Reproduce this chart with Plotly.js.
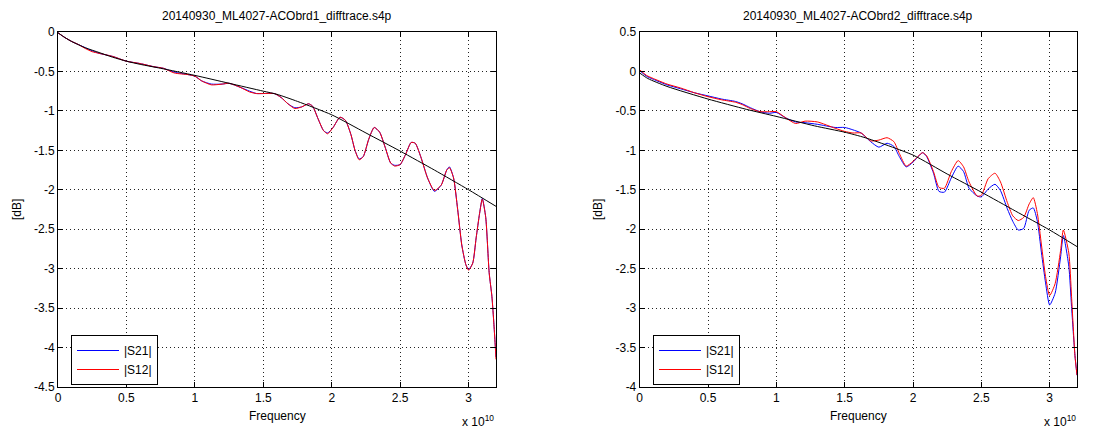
<!DOCTYPE html>
<html>
<head>
<meta charset="utf-8">
<script src="https://cdn.plot.ly/plotly-3.0.1.min.js"></script>
<style>html,body{margin:0;padding:0;background:#fff}#chart{width:1095px;height:429px}</style>
</head>
<body>
<div id="chart"></div>
<script>
// Frequency in units of 1e10 Hz
const freqLeft = [0, 0.05, 0.1, 0.15, 0.2, 0.25, 0.3, 0.4, 0.5, 0.6, 0.7, 0.77, 0.85, 0.95, 1.0, 1.05, 1.12, 1.2, 1.25, 1.33, 1.4, 1.45, 1.5, 1.58, 1.63, 1.68, 1.73, 1.78, 1.83, 1.86, 1.9, 1.94, 1.97, 2.01, 2.06, 2.1, 2.14, 2.17, 2.2, 2.23, 2.27, 2.31, 2.35, 2.39, 2.43, 2.46, 2.5, 2.54, 2.58, 2.61, 2.65, 2.7, 2.75, 2.8, 2.84, 2.86, 2.89, 2.92, 2.95, 2.98, 3.0, 3.03, 3.055, 3.08, 3.1, 3.125, 3.15, 3.17, 3.185, 3.195, 3.2];
const s12Left = [-0.01, -0.07, -0.12, -0.16, -0.21, -0.25, -0.27, -0.31, -0.37, -0.40, -0.44, -0.46, -0.52, -0.54, -0.56, -0.62, -0.67, -0.66, -0.65, -0.70, -0.76, -0.78, -0.78, -0.78, -0.83, -0.91, -0.97, -0.95, -0.91, -0.94, -1.10, -1.25, -1.29, -1.21, -1.08, -1.12, -1.30, -1.50, -1.62, -1.58, -1.36, -1.21, -1.27, -1.46, -1.66, -1.70, -1.68, -1.55, -1.40, -1.41, -1.58, -1.85, -2.01, -1.94, -1.75, -1.72, -1.85, -2.25, -2.70, -2.95, -3.02, -2.93, -2.61, -2.30, -2.12, -2.35, -3.05, -3.35, -3.71, -3.99, -4.15];
const s21Left = [-0.01, -0.07, -0.12, -0.16, -0.20, -0.24, -0.27, -0.31, -0.37, -0.40, -0.44, -0.46, -0.51, -0.54, -0.56, -0.62, -0.66, -0.66, -0.65, -0.70, -0.75, -0.78, -0.78, -0.78, -0.83, -0.91, -0.96, -0.95, -0.91, -0.94, -1.10, -1.25, -1.28, -1.21, -1.08, -1.12, -1.30, -1.50, -1.61, -1.58, -1.36, -1.21, -1.27, -1.46, -1.66, -1.69, -1.68, -1.55, -1.40, -1.41, -1.58, -1.85, -2.02, -1.94, -1.75, -1.71, -1.85, -2.25, -2.70, -2.95, -3.01, -2.93, -2.61, -2.30, -2.11, -2.35, -3.05, -3.35, -3.71, -3.99, -4.12];
const fitFreqLeft = [0, 0.05, 0.1, 0.2, 0.3, 0.4, 0.5, 0.6, 0.75, 1.0, 1.25, 1.5, 1.6, 1.75, 2.0, 2.25, 2.5, 2.75, 3.0, 3.2];
const fitLeft = [-0.01, -0.07, -0.12, -0.20, -0.26, -0.32, -0.37, -0.41, -0.46, -0.55, -0.65, -0.75, -0.79, -0.88, -1.05, -1.28, -1.51, -1.75, -2.00, -2.21];

const freqRight = [0, 0.05, 0.1, 0.2, 0.3, 0.4, 0.5, 0.6, 0.7, 0.75, 0.81, 0.88, 0.95, 1.0, 1.07, 1.14, 1.21, 1.3, 1.43, 1.5, 1.56, 1.62, 1.69, 1.75, 1.81, 1.86, 1.9, 1.95, 2.0, 2.07, 2.1, 2.15, 2.19, 2.23, 2.28, 2.33, 2.37, 2.41, 2.47, 2.5, 2.55, 2.6, 2.64, 2.69, 2.73, 2.77, 2.81, 2.85, 2.88, 2.91, 2.94, 2.97, 3.0, 3.04, 3.08, 3.1, 3.14, 3.16, 3.185, 3.2];
const s21Right = [0.01, -0.06, -0.10, -0.17, -0.22, -0.27, -0.31, -0.35, -0.38, -0.41, -0.46, -0.51, -0.53, -0.52, -0.59, -0.64, -0.65, -0.67, -0.71, -0.71, -0.74, -0.78, -0.89, -0.96, -0.91, -0.95, -1.08, -1.21, -1.15, -1.03, -1.08, -1.29, -1.52, -1.53, -1.35, -1.20, -1.27, -1.48, -1.58, -1.59, -1.49, -1.43, -1.51, -1.74, -1.90, -2.01, -1.99, -1.76, -1.73, -1.90, -2.30, -2.68, -2.96, -2.81, -2.35, -2.08, -2.47, -2.98, -3.60, -3.85];
const s12Right = [0.02, -0.05, -0.09, -0.16, -0.21, -0.27, -0.32, -0.36, -0.39, -0.42, -0.47, -0.51, -0.51, -0.51, -0.59, -0.66, -0.63, -0.64, -0.72, -0.76, -0.78, -0.78, -0.88, -0.87, -0.84, -0.89, -1.04, -1.20, -1.14, -1.03, -1.07, -1.27, -1.47, -1.48, -1.27, -1.13, -1.21, -1.40, -1.58, -1.57, -1.36, -1.29, -1.40, -1.66, -1.83, -1.89, -1.85, -1.68, -1.60, -1.80, -2.20, -2.60, -2.84, -2.69, -2.27, -2.01, -2.30, -2.85, -3.60, -3.85];
const fitFreqRight = [0, 0.06, 0.2, 0.5, 0.78, 1.0, 1.28, 1.5, 1.65, 2.0, 2.25, 2.5, 2.75, 3.0, 3.2];
const fitRight = [-0.02, -0.09, -0.19, -0.35, -0.48, -0.57, -0.69, -0.77, -0.84, -1.06, -1.30, -1.53, -1.77, -2.01, -2.22];

const xTickVals = [0, 0.5, 1, 1.5, 2, 2.5, 3];
const xTickText = ['0', '0.5', '1', '1.5', '2', '2.5', '3'];
const yTicksLeft = [0, -0.5, -1, -1.5, -2, -2.5, -3, -3.5, -4, -4.5];
const yTicksRight = [0.5, 0, -0.5, -1, -1.5, -2, -2.5, -3, -3.5, -4];
const titleLeft = '20140930_ML4027-ACObrd1_difftrace.s4p';
const titleRight = '20140930_ML4027-ACObrd2_difftrace.s4p';
const seriesNames = ['|S21|', '|S12|'];

const E = 1e10;
const hz = a => a.map(v => v * E);
const lbl = v => (v < 0 ? '-' + String(-v) : String(v));
const FONT = 'Liberation Sans, Arial, Helvetica, sans-serif';

function line(x, y, color, name, xa, ya, leg) {
  const t = {x: hz(x), y: y, type: 'scatter', mode: 'lines', name: name,
    line: {color: color, width: 1, shape: 'spline', smoothing: 0.6},
    xaxis: xa, yaxis: ya, hoverinfo: 'skip'};
  if (leg) { t.legend = leg; t.showlegend = true; } else { t.showlegend = false; }
  return t;
}

const traces = [
  line(freqLeft, s21Left, '#0000ff', seriesNames[0], 'x', 'y', 'legend'),
  line(freqLeft, s12Left, '#ff0000', seriesNames[1], 'x', 'y', 'legend'),
  line(fitFreqLeft, fitLeft, '#000000', 'fit', 'x', 'y', null),
  line(freqRight, s21Right, '#0000ff', seriesNames[0], 'x2', 'y2', 'legend2'),
  line(freqRight, s12Right, '#ff0000', seriesNames[1], 'x2', 'y2', 'legend2'),
  line(fitFreqRight, fitRight, '#000000', 'fit', 'x2', 'y2', null)
];

const GRID = {showgrid: true, gridcolor: '#222', griddash: '1px,3px', gridwidth: 1, zeroline: false};
function xax(dom, anchor) {
  return Object.assign({domain: dom, anchor: anchor, range: [0, 3.2 * E], tickvals: hz(xTickVals), ticktext: xTickText,
    ticks: 'inside', ticklen: 5, tickcolor: '#000', showline: true, linecolor: '#000', linewidth: 1,
    mirror: 'ticks', tickfont: {family: FONT, size: 12, color: '#000'}, fixedrange: true}, GRID);
}
function yax(ticks, anchor) {
  return Object.assign({domain: [0.0979, 0.9254], anchor: anchor, range: [Math.min(...ticks), Math.max(...ticks)],
    tickvals: ticks, ticktext: ticks.map(lbl),
    ticks: 'inside', ticklen: 5, tickcolor: '#000', showline: true, linecolor: '#000', linewidth: 1,
    mirror: 'ticks', tickfont: {family: FONT, size: 12, color: '#000'}, fixedrange: true}, GRID);
}

const xl = [58 / 1095, 496 / 1095];
const xr = [639.7 / 1095, 1077 / 1095];
const px = p => p / 1095;
const py = p => (429 - p) / 429;
const ann = (text, x, y, extra) => Object.assign({text: text, x: x, y: y, xref: 'paper', yref: 'paper',
  xanchor: 'center', yanchor: 'middle',
  showarrow: false, font: {family: FONT, size: 12, color: '#000'}}, extra || {});

const legendStyle = (x, y) => ({x: x, y: y, xanchor: 'left', yanchor: 'top', bgcolor: '#fff',
  bordercolor: '#000', borderwidth: 1, font: {family: FONT, size: 12, color: '#000'},
  itemwidth: 42, tracegroupgap: 0});

const layout = {
  width: 1095, height: 429, margin: {l: 0, r: 0, t: 0, b: 0},
  paper_bgcolor: '#fff', plot_bgcolor: '#fff',
  xaxis: xax(xl, 'y'), yaxis: yax(yTicksLeft, 'x'),
  xaxis2: xax(xr, 'y2'), yaxis2: yax(yTicksRight, 'x2'),
  legend: legendStyle(px(71), py(335)),
  legend2: legendStyle(px(653), py(335)),
  annotations: [
    ann(titleLeft, px(277), py(16)),
    ann(titleRight, px(858), py(16)),
    ann('Frequency', px(277), py(416)),
    ann('Frequency', px(858), py(416)),
    ann('[dB]', px(17), py(210), {textangle: -90}),
    ann('[dB]', px(598), py(210), {textangle: -90}),
    ann('x 10<sup>10</sup>', px(478), py(421)),
    ann('x 10<sup>10</sup>', px(1060), py(421))
  ]
};

Plotly.newPlot('chart', traces, layout, {displayModeBar: false, staticPlot: true});
</script>
</body>
</html>
